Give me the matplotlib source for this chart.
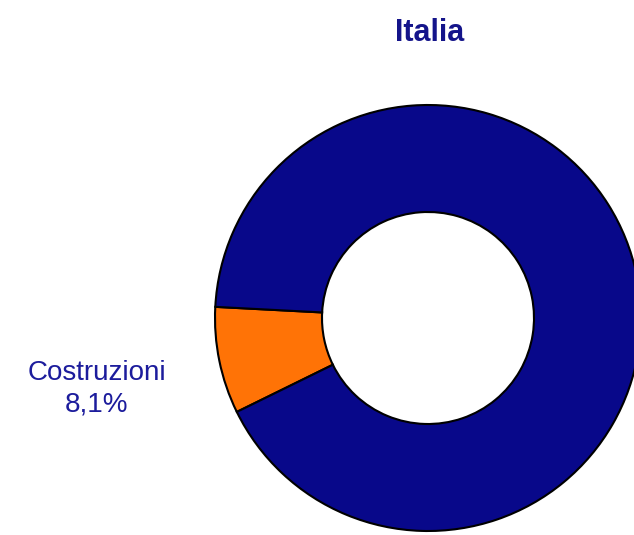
import matplotlib
matplotlib.use('Agg')
import matplotlib.pyplot as plt

# data
sectors = ['Costruzioni', 'Altro']
shares = [8.1, 91.9]
colors = ['#ff7306', '#08088a']
title = 'Italia'

plt.rcParams['font.family'] = ['Liberation Sans', 'DejaVu Sans']

fig = plt.figure(figsize=(6.34, 5.35), dpi=100)
ax = fig.add_axes([0, 0, 1, 1])

wedges, _ = ax.pie(shares, colors=colors, startangle=177, counterclock=True,
                   center=(428, 217), radius=213, frame=True,
                   wedgeprops=dict(width=107, edgecolor='black', linewidth=1.5))
ax.set_xlim(0, 634)
ax.set_ylim(0, 535)
ax.set_aspect('equal')
ax.axis('off')

ax.text(97, 146, sectors[0] + '\n' + ('%.1f%%' % shares[0]).replace('.', ','),
        ha='center', va='center', fontsize=20, color='#1c1c9c', linespacing=1.25)
ax.text(430, 502, title, ha='center', va='center', fontsize=22,
        fontweight='bold', color='#14148a')

fig.savefig('out.png', dpi=100)
